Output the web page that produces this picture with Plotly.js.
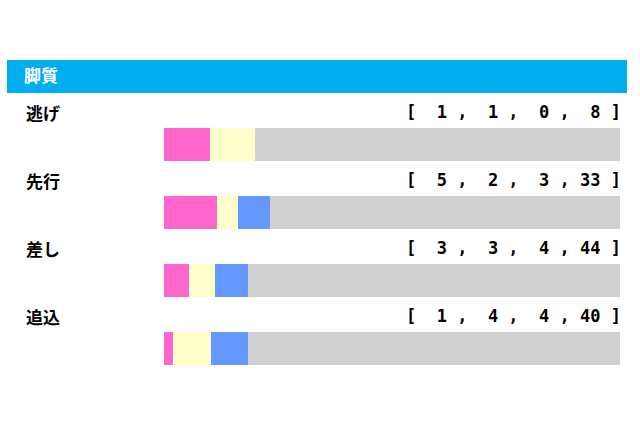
<!DOCTYPE html>
<html>
<head>
<meta charset="utf-8">
<script src="https://cdn.plot.ly/plotly-3.0.1.min.js"></script>
<style>
  body { margin: 0; background: #fff; }
  #chart { width: 640px; height: 426px; }
</style>
</head>
<body>
<div id="chart"></div>
<script>
// 脚質データ
let categories = ['逃げ', '先行', '差し', '追込'];
let first  = [1, 5, 3, 1];
let second = [1, 2, 3, 4];
let third  = [0, 3, 4, 4];
let others = [8, 33, 44, 40];

let colors = ['#FF66CC', '#FFFFCC', '#6699FF', '#D0D0D0'];
let series = [first, second, third, others];

function pad(n) { // 2桁に右寄せ
  let s = String(n);
  return s.length < 2 ? ' ' + s : s;
}

let data = series.map(function (vals, k) {
  return {
    type: 'bar',
    orientation: 'h',
    y: categories,
    x: vals,
    marker: { color: colors[k], line: { width: 0 } },
    hoverinfo: 'skip',
    showlegend: false
  };
});

let annotations = [];
categories.forEach(function (c, i) {
  annotations.push({
    xref: 'paper', yref: 'y',
    x: 24 / 640, y: c, yshift: 32,
    xanchor: 'left', yanchor: 'middle',
    text: '<b>' + c + '</b>',
    showarrow: false,
    font: { family: 'Noto Sans CJK JP', size: 17, color: '#000' }
  });
  let txt = '[ ' + series.map(function (s) { return pad(s[i]); }).join(' , ') + ' ]';
  annotations.push({
    xref: 'paper', yref: 'y',
    x: 623 / 640, y: c, yshift: 32,
    xanchor: 'right', yanchor: 'middle',
    text: '<b>' + txt.replace(/ /g, '&nbsp;') + '</b>',
    showarrow: false,
    font: { family: 'DejaVu Sans Mono', size: 17, color: '#000' }
  });
});

let layout = {
  width: 640,
  height: 426,
  margin: { l: 0, r: 0, t: 0, b: 0 },
  paper_bgcolor: '#fff',
  plot_bgcolor: '#fff',
  barmode: 'stack',
  barnorm: 'percent',
  bargap: 0.515,
  title: {
    text: '<b>脚質</b>',
    x: 24 / 640, xanchor: 'left', xref: 'paper',
    y: (426 - 76) / 426, yanchor: 'middle', yref: 'paper',
    font: { family: 'Noto Sans CJK JP', size: 17, color: '#fff' }
  },
  xaxis: {
    domain: [164 / 640, 620 / 640],
    range: [0, 100],
    visible: false,
    fixedrange: true
  },
  yaxis: {
    type: 'category',
    domain: [(426 - 382.5) / 426, (426 - 110) / 426],
    range: [3.5, -0.5],
    visible: false,
    fixedrange: true
  },
  shapes: [{
    type: 'rect', xref: 'paper', yref: 'paper',
    x0: 7 / 640, x1: 627 / 640,
    y0: (426 - 93) / 426, y1: (426 - 60) / 426,
    fillcolor: '#00AEEF', line: { width: 0 }, layer: 'below'
  }],
  annotations: annotations
};

Plotly.newPlot('chart', data, layout, { displayModeBar: false, staticPlot: true });
</script>
</body>
</html>
